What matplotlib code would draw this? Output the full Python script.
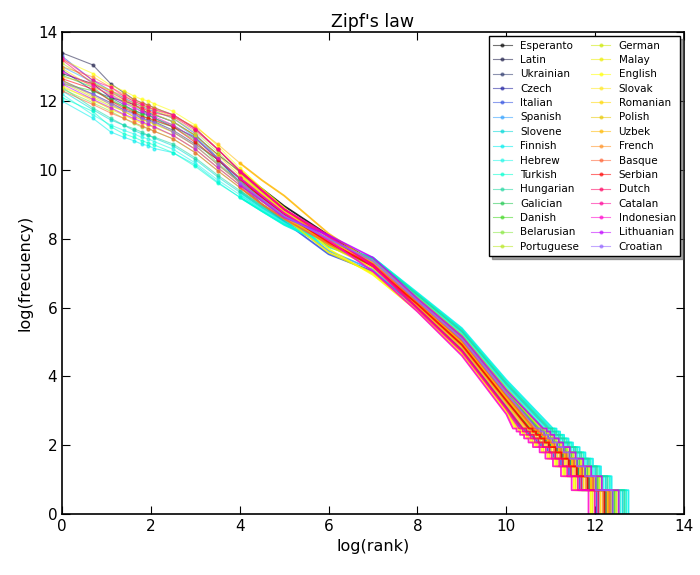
import matplotlib
matplotlib.use("Agg")
import matplotlib.pyplot as plt
import numpy as np

# Languages in legend order
languages = ["Esperanto", "Latin", "Ukrainian", "Czech", "Italian", "Spanish",
             "Slovene", "Finnish", "Hebrew", "Turkish", "Hungarian", "Galician",
             "Danish", "Belarusian", "Portuguese", "German", "Malay", "English",
             "Slovak", "Romanian", "Polish", "Uzbek", "French", "Basque",
             "Serbian", "Dutch", "Catalan", "Indonesian", "Lithuanian", "Croatian"]

colors = ["#000000", "#1c1c48", "#2e3a6e", "#1f1fa0", "#3050e0", "#30a0ff",
          "#00d8d8", "#00eeee", "#20f8e8", "#00ffd0", "#20d8a0", "#20c850",
          "#40d820", "#88e840", "#b8e820", "#cce800", "#eeee00", "#ffff00",
          "#ffe820", "#ffd800", "#e8c800", "#ffb800", "#ff9020", "#ff6030",
          "#ff0000", "#ff0060", "#ff0098", "#ff00cc", "#c000ff", "#9060ff"]

# head: log(frequency) for ranks 1..8
head_rank = [1, 2, 3, 4, 5, 6, 7, 8]
head_logfreq = [
    [12.8, 12.5, 12.1, 12.0, 11.9, 11.75, 11.65, 11.6],
    [13.4, 13.05, 12.5, 12.25, 12.05, 11.95, 11.88, 11.8],
    [12.6, 12.2, 11.95, 11.75, 11.65, 11.5, 11.45, 11.4],
    [12.9, 12.3, 12.1, 11.9, 11.72, 11.65, 11.6, 11.5],
    [13.3, 12.6, 12.3, 12.1, 11.95, 11.85, 11.75, 11.7],
    [13.0, 12.55, 12.2, 11.95, 11.85, 11.7, 11.65, 11.6],
    [12.3, 11.75, 11.45, 11.3, 11.15, 11.05, 11.0, 10.92],
    [12.0, 11.5, 11.1, 10.95, 10.85, 10.75, 10.7, 10.62],
    [12.2, 11.6, 11.3, 11.15, 11.05, 10.95, 10.9, 10.82],
    [12.1, 11.7, 11.25, 11.05, 10.95, 10.85, 10.78, 10.72],
    [12.4, 11.8, 11.5, 11.3, 11.2, 11.1, 11.0, 10.95],
    [12.75, 12.4, 12.0, 11.85, 11.75, 11.62, 11.58, 11.5],
    [12.5, 12.3, 12.05, 11.85, 11.7, 11.58, 11.5, 11.42],
    [12.35, 11.95, 11.7, 11.5, 11.35, 11.25, 11.2, 11.12],
    [13.1, 12.55, 12.3, 12.05, 11.95, 11.85, 11.8, 11.72],
    [12.55, 12.1, 11.85, 11.72, 11.55, 11.45, 11.4, 11.32],
    [12.4, 12.05, 11.75, 11.6, 11.45, 11.35, 11.3, 11.22],
    [13.2, 12.8, 12.45, 12.3, 12.15, 12.05, 12.0, 11.92],
    [12.45, 12.0, 11.8, 11.6, 11.48, 11.38, 11.3, 11.25],
    [12.95, 12.4, 12.2, 12.0, 11.85, 11.78, 11.7, 11.62],
    [12.6, 12.15, 11.9, 11.7, 11.55, 11.48, 11.4, 11.35],
    [12.7, 12.5, 12.3, 12.15, 12.0, 11.9, 11.82, 11.75],
    [13.0, 12.7, 12.4, 12.2, 12.05, 11.95, 11.88, 11.8],
    [12.3, 11.9, 11.65, 11.5, 11.38, 11.28, 11.2, 11.12],
    [12.65, 12.35, 12.0, 11.8, 11.68, 11.55, 11.5, 11.45],
    [13.2, 12.5, 12.25, 12.05, 11.9, 11.8, 11.72, 11.65],
    [13.25, 12.6, 12.4, 12.15, 12.0, 11.9, 11.82, 11.75],
    [12.85, 12.45, 12.15, 11.95, 11.8, 11.7, 11.62, 11.55],
    [12.5, 12.05, 11.8, 11.62, 11.5, 11.4, 11.32, 11.25],
    [12.55, 12.2, 11.9, 11.75, 11.6, 11.5, 11.42, 11.38],
]

# body: log(frequency) at these log(rank) values
body_logrank = [2.5, 3.0, 3.5, 4.0, 4.5, 5.0, 6.0, 7.0, 8.0, 9.0, 10.0]
body_logfreq = [
    [11.4, 11.0, 10.45, 9.95, 9.45, 8.95, 8.1, 7.35, 6.2, 5.1, 3.5],
    [11.6, 11.2, 10.6, 9.98, 9.4, 8.86, 7.95, 7.2, 6.1, 4.92, 3.3],
    [11.15, 10.75, 10.3, 9.65, 9.2, 8.7, 7.85, 7.25, 6.18, 5.04, 3.45],
    [11.25, 10.95, 10.3, 9.75, 9.25, 8.75, 7.9, 7.22, 6.12, 4.96, 3.35],
    [11.5, 11.05, 10.35, 9.6, 9.0, 8.5, 7.55, 7.05, 5.99, 4.76, 3.1],
    [11.4, 10.95, 10.35, 9.7, 9.1, 8.6, 7.65, 7.1, 6.01, 4.8, 3.15],
    [10.7, 10.3, 9.8, 9.35, 8.9, 8.5, 7.85, 7.4, 6.34, 5.28, 3.75],
    [10.5, 10.15, 9.65, 9.2, 8.8, 8.4, 7.8, 7.45, 6.43, 5.4, 3.9],
    [10.6, 10.2, 9.71, 9.28, 8.85, 8.46, 7.75, 7.35, 6.32, 5.24, 3.7],
    [10.5, 10.1, 9.62, 9.21, 8.8, 8.42, 7.85, 7.45, 6.4, 5.36, 3.85],
    [10.75, 10.35, 9.85, 9.4, 8.95, 8.55, 7.9, 7.42, 6.37, 5.32, 3.8],
    [11.3, 10.9, 10.34, 9.77, 9.25, 8.74, 7.8, 7.2, 6.1, 4.92, 3.3],
    [11.25, 10.85, 10.2, 9.65, 9.15, 8.65, 7.95, 7.3, 6.23, 5.12, 3.55],
    [10.9, 10.5, 9.98, 9.49, 9.0, 8.58, 7.9, 7.35, 6.29, 5.2, 3.65],
    [11.5, 11.1, 10.52, 9.91, 9.35, 8.82, 7.95, 7.25, 6.12, 4.96, 3.35],
    [11.1, 10.7, 10.16, 9.63, 9.15, 8.66, 8.0, 7.35, 6.26, 5.16, 3.6],
    [11.0, 10.6, 10.07, 9.56, 9.1, 8.62, 7.6, 7.0, 5.93, 4.68, 3.0],
    [11.7, 11.3, 10.7, 10.05, 9.45, 8.9, 7.7, 6.95, 5.9, 4.64, 2.95],
    [11.0, 10.6, 10.07, 9.56, 9.1, 8.62, 7.9, 7.3, 6.2, 5.08, 3.5],
    [11.4, 11.0, 10.43, 9.84, 9.3, 8.78, 7.8, 7.15, 6.04, 4.84, 3.2],
    [11.1, 10.7, 10.16, 9.63, 9.15, 8.66, 7.85, 7.25, 6.15, 5.0, 3.4],
    [11.55, 11.25, 10.75, 10.2, 9.7, 9.25, 8.15, 7.3, 6.1, 4.98, 3.38],
    [11.6, 11.2, 10.61, 9.98, 9.4, 8.86, 7.95, 7.2, 6.07, 4.88, 3.25],
    [10.9, 10.5, 9.98, 9.49, 9.0, 8.58, 7.85, 7.25, 6.18, 5.04, 3.45],
    [11.25, 10.8, 10.3, 9.75, 9.2, 8.72, 7.9, 7.2, 6.1, 4.92, 3.3],
    [11.55, 11.15, 10.6, 9.95, 9.4, 8.85, 8.05, 7.25, 5.99, 4.76, 3.1],
    [11.6, 11.2, 10.61, 9.98, 9.4, 8.86, 8.1, 7.2, 5.96, 4.72, 3.05],
    [11.3, 10.9, 10.34, 9.77, 9.25, 8.74, 7.95, 7.05, 5.88, 4.6, 2.9],
    [11.0, 10.6, 10.07, 9.56, 9.1, 8.62, 8.1, 7.45, 6.26, 5.16, 3.6],
    [11.1, 10.7, 10.16, 9.63, 9.15, 8.66, 8.0, 7.35, 6.2, 5.08, 3.5],
]

# tail: log(rank) where the word count first drops to each frequency
tail_freq = [12, 11, 10, 9, 8, 7, 6, 5, 4, 3, 2, 1]
tail_logrank = [
    [10.69, 10.77, 10.85, 10.94, 11.04, 11.14, 11.29, 11.42, 11.59, 11.77, 12.01, 12.39],
    [10.51, 10.59, 10.67, 10.76, 10.86, 10.96, 11.11, 11.24, 11.41, 11.59, 11.83, 12.21],
    [10.65, 10.72, 10.8, 10.9, 11.0, 11.1, 11.25, 11.37, 11.55, 11.72, 11.97, 12.35],
    [10.55, 10.63, 10.72, 10.8, 10.9, 11.0, 11.15, 11.28, 11.45, 11.63, 11.87, 12.25],
    [10.33, 10.41, 10.49, 10.58, 10.68, 10.78, 10.93, 11.06, 11.23, 11.41, 11.65, 12.03],
    [10.38, 10.46, 10.54, 10.63, 10.73, 10.83, 10.98, 11.11, 11.28, 11.46, 11.7, 12.08],
    [10.92, 11.0, 11.08, 11.17, 11.27, 11.37, 11.52, 11.65, 11.82, 12.0, 12.24, 12.62],
    [11.05, 11.13, 11.21, 11.3, 11.4, 11.5, 11.65, 11.78, 11.95, 12.13, 12.37, 12.75],
    [10.87, 10.95, 11.03, 11.12, 11.22, 11.32, 11.47, 11.6, 11.77, 11.95, 12.19, 12.57],
    [11.0, 11.09, 11.17, 11.26, 11.36, 11.46, 11.6, 11.74, 11.9, 12.09, 12.33, 12.7],
    [10.96, 11.04, 11.12, 11.21, 11.31, 11.41, 11.56, 11.69, 11.86, 12.04, 12.28, 12.66],
    [10.53, 10.61, 10.69, 10.78, 10.88, 10.98, 11.13, 11.26, 11.43, 11.61, 11.85, 12.23],
    [10.74, 10.82, 10.9, 10.99, 11.09, 11.19, 11.34, 11.47, 11.64, 11.82, 12.06, 12.44],
    [10.83, 10.91, 10.99, 11.08, 11.18, 11.28, 11.43, 11.56, 11.73, 11.91, 12.15, 12.53],
    [10.58, 10.66, 10.75, 10.83, 10.93, 11.03, 11.18, 11.31, 11.48, 11.66, 11.9, 12.28],
    [10.78, 10.86, 10.94, 11.03, 11.13, 11.23, 11.38, 11.51, 11.68, 11.86, 12.1, 12.48],
    [10.24, 10.32, 10.4, 10.49, 10.59, 10.69, 10.84, 10.97, 11.14, 11.32, 11.56, 11.94],
    [10.2, 10.28, 10.36, 10.45, 10.55, 10.65, 10.8, 10.93, 11.1, 11.28, 11.52, 11.9],
    [10.66, 10.74, 10.82, 10.91, 11.01, 11.11, 11.26, 11.39, 11.56, 11.74, 11.98, 12.36],
    [10.42, 10.5, 10.58, 10.67, 10.77, 10.87, 11.02, 11.15, 11.32, 11.5, 11.74, 12.12],
    [10.6, 10.68, 10.76, 10.85, 10.95, 11.05, 11.2, 11.33, 11.5, 11.68, 11.92, 12.3],
    [10.58, 10.66, 10.74, 10.83, 10.93, 11.03, 11.18, 11.31, 11.48, 11.66, 11.9, 12.28],
    [10.47, 10.55, 10.63, 10.72, 10.82, 10.92, 11.07, 11.2, 11.37, 11.55, 11.79, 12.17],
    [10.62, 10.7, 10.78, 10.87, 10.97, 11.08, 11.22, 11.35, 11.52, 11.7, 11.95, 12.32],
    [10.51, 10.59, 10.67, 10.76, 10.86, 10.96, 11.11, 11.24, 11.41, 11.59, 11.83, 12.21],
    [10.37, 10.45, 10.53, 10.62, 10.72, 10.82, 10.97, 11.1, 11.27, 11.45, 11.69, 12.07],
    [10.29, 10.37, 10.45, 10.54, 10.64, 10.74, 10.89, 11.02, 11.19, 11.37, 11.61, 11.99],
    [10.15, 10.23, 10.31, 10.4, 10.5, 10.6, 10.75, 10.88, 11.05, 11.23, 11.47, 11.85],
    [10.83, 10.91, 10.99, 11.08, 11.18, 11.28, 11.43, 11.56, 11.73, 11.91, 12.15, 12.53],
    [10.69, 10.77, 10.85, 10.94, 11.04, 11.14, 11.29, 11.42, 11.59, 11.77, 12.01, 12.39],
]

fig = plt.figure(figsize=(7, 5.75), dpi=100)
ax = fig.add_axes([0.0886, 0.106, 0.8886, 0.838])

head_x = np.log(head_rank)
n_thin = 4  # body knots drawn in the thin, dotted part
for i, lang in enumerate(languages):
    c = colors[i]
    hx = np.concatenate([head_x, body_logrank[:n_thin]])
    hy = np.concatenate([head_logfreq[i], body_logfreq[i][:n_thin]])
    ax.plot(hx, hy, marker=".", markersize=4, linewidth=0.8, color=c,
            alpha=0.55, label=lang)

    # thicker part: rest of the body, then the integer-frequency steps
    tx = list(body_logrank[n_thin - 1:])
    ty = list(body_logfreq[i][n_thin - 1:])
    lf = np.log(tail_freq)
    tr = tail_logrank[i]
    tx.append(tr[0])
    ty.append(lf[0])
    for k in range(1, len(tr)):
        tx += [tr[k], tr[k]]
        ty += [lf[k - 1], lf[k]]
    ax.plot(tx, ty, color=c, linewidth=1.3, alpha=0.85)

ax.set_xlim(0, 14)
ax.set_ylim(0, 14)
ax.set_xticks(range(0, 15, 2))
ax.set_yticks(range(0, 15, 2))
ax.tick_params(direction="in", top=True, right=True, length=6, labelsize=11)
for s in ax.spines.values():
    s.set_linewidth(1.2)

ax.set_title("Zipf's law", fontsize=12.5, pad=4)
ax.set_xlabel("log(rank)", fontsize=11.5)
ax.set_ylabel("log(frecuency)", fontsize=11.5)

leg = ax.legend(loc="upper right", ncol=2, fontsize=7.5, shadow=True,
                fancybox=False, numpoints=1, labelspacing=0.42,
                columnspacing=1.2, handlelength=1.8, borderaxespad=0.4)
leg.get_frame().set_edgecolor("black")
leg.get_frame().set_alpha(1.0)

fig.savefig("out.png", dpi=100)
